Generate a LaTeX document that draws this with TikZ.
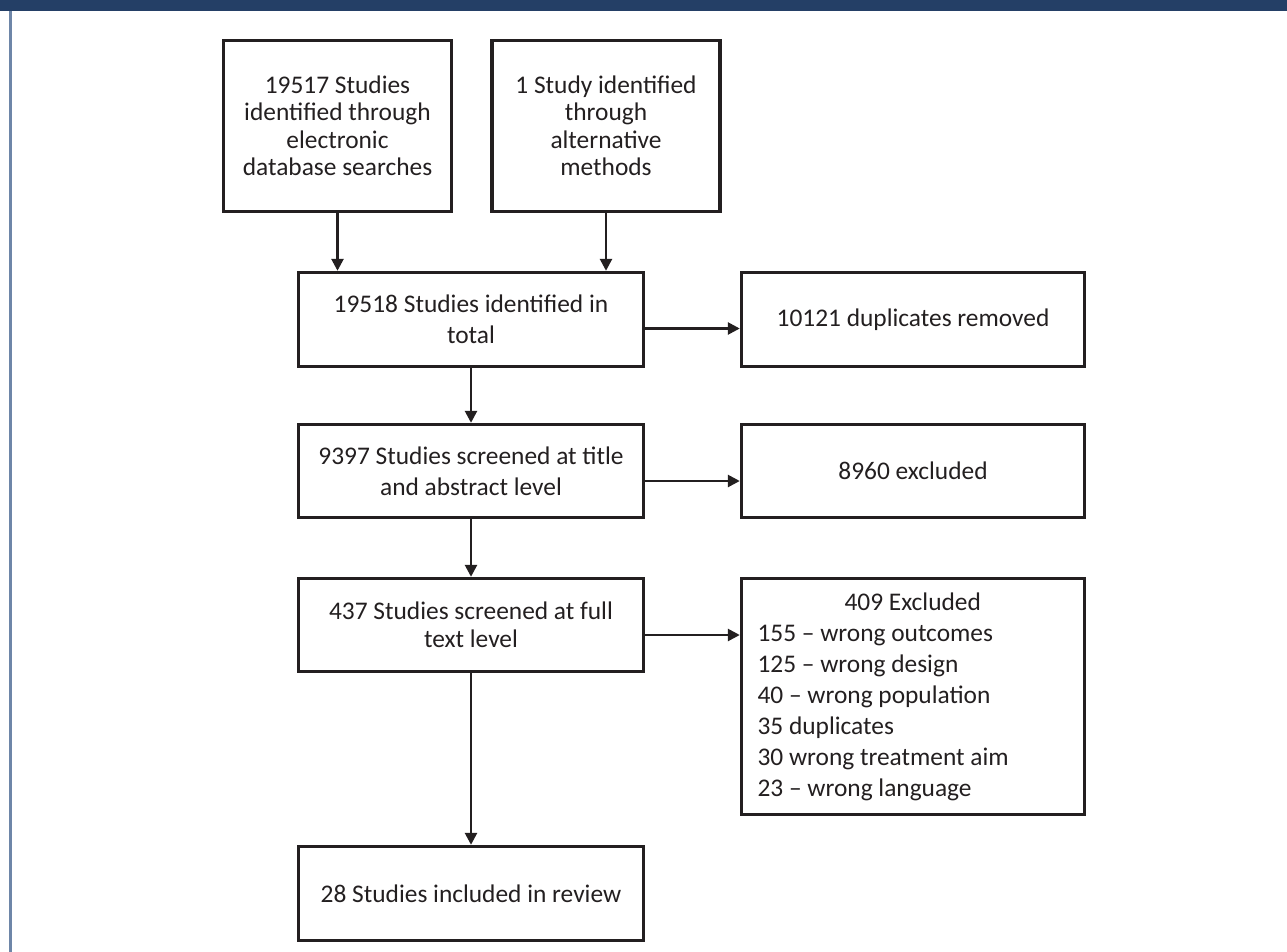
\documentclass[tikz,border=0pt]{standalone}
\usepackage{fontspec}
\setmainfont{Carlito}
\usetikzlibrary{arrows.meta}

\definecolor{bandblue}{HTML}{243F66}
\definecolor{edgeblue}{HTML}{6E86A8}
\definecolor{ink}{HTML}{231F20}

\tikzset{
  box/.style={draw=ink, line width=3.4pt, align=center, text=ink, inner sep=4pt,
    font=\fontsize{25.4}{31}\selectfont},
  tightbox/.style={box, font=\fontsize{25.4}{27.5}\selectfont},
  flow/.style={draw=ink, line width=2.6pt, -{Triangle[length=12pt,width=12pt]}}
}

\begin{document}
\begin{tikzpicture}[x=1pt,y=-1pt]
        \useasboundingbox (0,0) rectangle (1287,952);
        % Header band and left rule
        \fill[bandblue] (0,0) rectangle (1287,11);
        \draw[edgeblue, line width=3pt] (10,11) -- (10,952);
        % Identification
        \node[tightbox, minimum width=228, minimum height=171] (dbsearch) at (337.5,126)
          {19517 Studies\\identified through\\electronic\\database searches};
        \node[tightbox, minimum width=228, minimum height=171] (othersrc) at (606,126)
          {1 Study identified\\through\\alternative\\methods};
        \node[box, minimum width=345, minimum height=94] (total) at (471,319.5)
          {19518 Studies identified in\\total};
        \node[box, minimum width=343, minimum height=94] (dupes) at (913,319.5)
          {10121 duplicates removed};
        % Screening
        \node[box, minimum width=345, minimum height=93] (titleabs) at (471,471)
          {9397 Studies screened at title\\and abstract level};
        \node[box, minimum width=343, minimum height=93] (exclta) at (913,471)
          {8960 excluded};
        \node[tightbox, minimum width=345, minimum height=93] (fulltext) at (471,625)
          {437 Studies screened at full\\text level};
        \node[box, minimum width=343, minimum height=236, text width=311, inner xsep=16pt,
          align=flush left] (exclft) at (913,696.5)
          {\hspace*{87pt}409 Excluded\\155 -- wrong outcomes\\125 -- wrong design\\
           40 -- wrong population\\35 duplicates\\30 wrong treatment aim\\23 -- wrong language};
        % Included
        \node[box, minimum width=345, minimum height=94] (included) at (471,893.5)
          {28 Studies included in review};
        % Connectors
        \draw[flow] (dbsearch.south) -- (dbsearch.south |- total.north);
        \draw[flow] (othersrc.south) -- (othersrc.south |- total.north);
        \draw[flow] ([yshift=-9pt]total.east) -- ([yshift=-9pt]total.east -| dupes.west);
        \draw[flow] (total) -- (titleabs);
        \draw[flow] ([yshift=-10pt]titleabs.east) -- ([yshift=-10pt]titleabs.east -| exclta.west);
        \draw[flow] (titleabs) -- (fulltext);
        \draw[flow] ([yshift=-10pt]fulltext.east) -- ([yshift=-10pt]fulltext.east -| exclft.west);
        \draw[flow] (fulltext) -- (included);
      \end{tikzpicture}
\end{document}
